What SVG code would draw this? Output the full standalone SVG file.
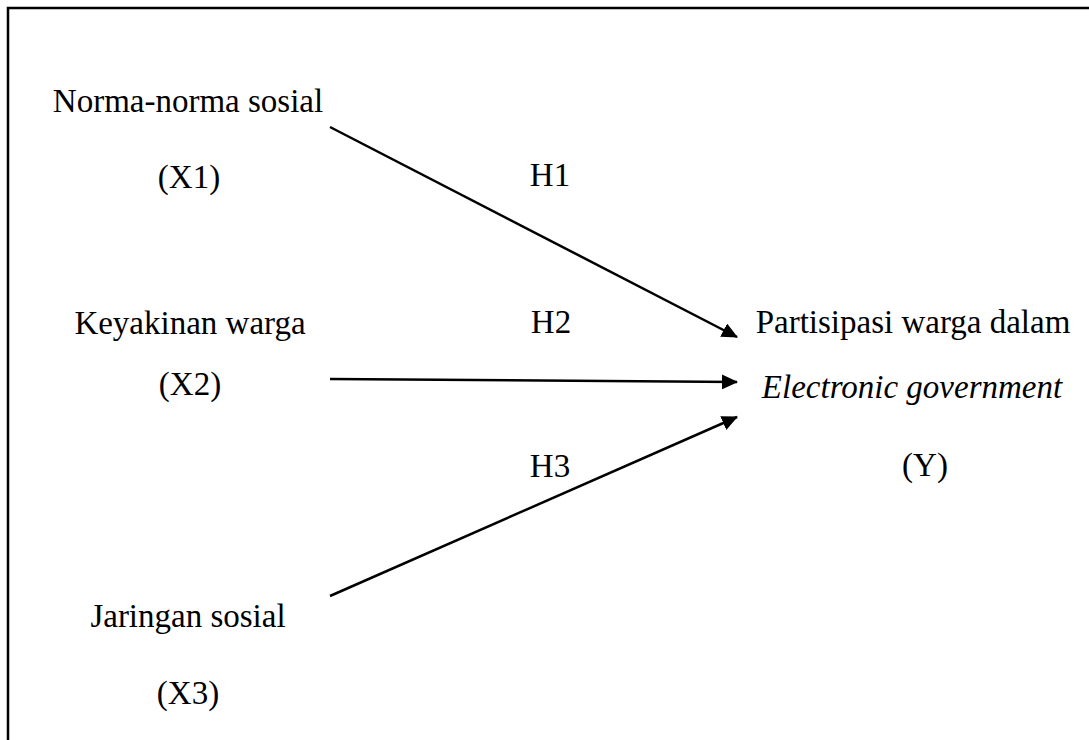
<svg xmlns="http://www.w3.org/2000/svg" width="1089" height="740" viewBox="0 0 1089 740">
<style>
text { font-family: "Liberation Serif", "Times New Roman", serif; font-size: 33px; fill: #000; text-anchor: middle; }
.it { font-style: italic; }
.ln { stroke: #000; stroke-width: 2.5; fill: none; }
.frame { stroke: #000; stroke-width: 2.5; fill: none; }
</style>
<defs>
<marker id="ah" viewBox="0 0 16 15" refX="15" refY="7.5" markerWidth="16" markerHeight="15" markerUnits="userSpaceOnUse" orient="auto">
<path d="M0,0 L16,7.5 L0,15 z" fill="#000"/>
</marker>
</defs>
<path class="frame" d="M8,740 L8,8 L1089,8"/>
<g id="x1"><text x="188" y="112">Norma-norma sosial</text><text x="189" y="188">(X1)</text></g>
<g id="x2"><text x="190" y="334">Keyakinan warga</text><text x="190" y="395">(X2)</text></g>
<g id="x3"><text x="188" y="627">Jaringan sosial</text><text x="188" y="704">(X3)</text></g>
<g id="y"><text x="913" y="333">Partisipasi warga dalam</text><text class="it" x="912" y="398">Electronic government</text><text x="925" y="476">(Y)</text></g>
<g id="connectors">
<line class="ln" x1="330" y1="127" x2="737" y2="337" marker-end="url(#ah)"/>
<line class="ln" x1="330" y1="379" x2="737" y2="382" marker-end="url(#ah)"/>
<line class="ln" x1="330" y1="596" x2="737" y2="417" marker-end="url(#ah)"/>
<text x="550" y="186">H1</text>
<text x="551" y="333">H2</text>
<text x="550" y="477">H3</text>
</g>
</svg>
